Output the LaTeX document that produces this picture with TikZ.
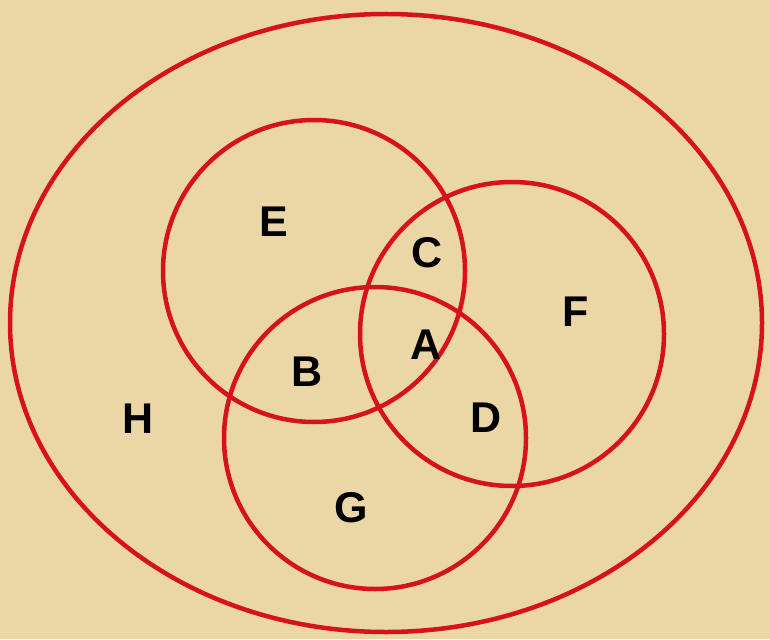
\documentclass[tikz,border=0pt]{standalone}
\usepackage{fontspec}
\setmainfont{Liberation Sans}
\usetikzlibrary{positioning}
\definecolor{VennRed}{RGB}{214,18,26}
\definecolor{Parchment}{RGB}{235,215,165}

\begin{document}
\begin{tikzpicture}[x=1pt,y=-1pt,
  ring/.style={draw=VennRed,line width=4.5pt},
  region/.style={font=\fontsize{43}{43}\selectfont\bfseries,inner sep=0pt}
]
\fill[Parchment] (0,0) rectangle (770,639);
\useasboundingbox (0,0) rectangle (770,639);
% universe and the three sets
\draw[ring] (386,323) ellipse [x radius=376,y radius=309];
\draw[ring] (314,271) circle [radius=151];
\draw[ring] (512,334) circle [radius=152];
\draw[ring] (375,438) circle [radius=151];
% region labels
\node[region] (e) at (274,222) {E};
\node[region] (c) at (427,253) {C};
\node[region] (f) at (576,312) {F};
\node[region] (a) at (426,345) {A};
\node[region] (b) at (307,372) {B};
\node[region] (h) at (138,419) {H};
\node[region] (d) at (486,418) {D};
\node[region] (g) at (351,508) {G};
\end{tikzpicture}
\end{document}
